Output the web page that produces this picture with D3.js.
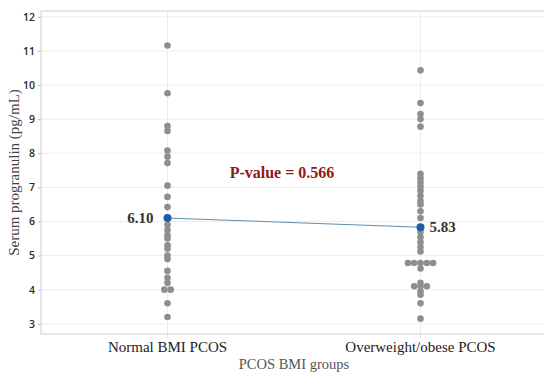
<!DOCTYPE html>
<html>
<head>
<meta charset="utf-8">
<script src="https://cdn.jsdelivr.net/npm/d3@7"></script>
<style>
  body { margin: 0; background: #fff; }
  svg { display: block; }
</style>
</head>
<body>
<div id="chart"></div>
<script>
// groups and values
var groups = ["Normal BMI PCOS", "Overweight/obese PCOS"];
var normalValues = [11.16, 9.76, 8.8, 8.65, 8.08, 7.9, 7.71, 7.05, 6.72, 6.42,
  5.9, 5.75, 5.6, 5.5, 5.3, 5.2, 5.0, 4.9, 4.55, 4.35, 4.2, 4.0, 4.0, 3.6, 3.2];
var obeseValues = [10.43, 9.47, 9.15, 9.0, 8.78,
  7.4, 7.27, 7.15, 7.02, 6.9, 6.75, 6.6, 6.5, 6.3, 6.1,
  5.69, 5.54, 5.39, 5.25, 5.12,
  4.78, 4.78, 4.78, 4.78, 4.78, 4.62,
  4.2, 4.1, 4.1, 4.1, 3.95, 3.85, 3.6, 3.15];
var means = [6.10, 5.83];
var meanLabels = ["6.10", "5.83"];
var yTicks = [3, 4, 5, 6, 7, 8, 9, 10, 11, 12];
var pText = "P-value = 0.566";

var W = 544, H = 377;
var plotL = 41, plotT = 11, plotB = 334, plotR = 547;

var svg = d3.select("#chart").append("svg")
    .attr("width", W)
    .attr("height", H);

var x = d3.scalePoint().domain(groups).range([plotL, plotR]).padding(0.5);
var y = d3.scaleLinear().domain([2.7, 12.17]).range([plotB, plotT]);

// gridlines
svg.append("g").selectAll("line")
    .data(yTicks).enter().append("line")
    .attr("x1", plotL).attr("x2", plotR)
    .attr("y1", function(d) { return y(d); })
    .attr("y2", function(d) { return y(d); })
    .attr("stroke", "#ededed");

svg.append("g").selectAll("line")
    .data(groups).enter().append("line")
    .attr("x1", function(d) { return x(d); })
    .attr("x2", function(d) { return x(d); })
    .attr("y1", plotT).attr("y2", plotB + 4)
    .attr("stroke", "#ededed");

// frame
svg.append("rect")
    .attr("x", plotL).attr("y", plotT)
    .attr("width", plotR - plotL).attr("height", plotB - plotT)
    .attr("fill", "none")
    .attr("stroke", "#cfcfcf");

// y axis
var yAxis = svg.append("g")
    .attr("transform", "translate(" + plotL + ",0)")
    .call(d3.axisLeft(y).tickValues(yTicks).tickSize(3).tickPadding(3));
yAxis.select(".domain").remove();
yAxis.selectAll(".tick line").attr("stroke", "#bbb");
yAxis.selectAll(".tick text")
    .attr("fill", "#2b2b2b")
    .attr("font-family", "Open Sans, sans-serif")
    .attr("font-weight", 600)
    .attr("font-size", "10.5px");

// x axis labels
svg.append("g").selectAll("text")
    .data(groups).enter().append("text")
    .attr("x", function(d) { return x(d); })
    .attr("y", 352)
    .attr("text-anchor", "middle")
    .attr("font-family", "Liberation Serif, Times New Roman, serif")
    .attr("font-size", "15px")
    .attr("fill", "#222")
    .text(function(d) { return d; });

svg.append("text")
    .attr("x", (plotL + plotR) / 2)
    .attr("y", 369)
    .attr("text-anchor", "middle")
    .attr("font-family", "Liberation Serif, Times New Roman, serif")
    .attr("font-size", "14.5px")
    .attr("fill", "#555")
    .text("PCOS BMI groups");

svg.append("text")
    .attr("transform", "translate(19," + ((plotT + plotB) / 2) + ") rotate(-90)")
    .attr("text-anchor", "middle")
    .attr("font-family", "Liberation Serif, Times New Roman, serif")
    .attr("font-size", "15px")
    .attr("fill", "#444")
    .text("Serum progranulin (pg/mL)");

// stack equal values side by side, like an individual value plot
function spread(values, group) {
  var bins = d3.group(values, function(v) { return Math.round(v * 20); });
  var pts = [];
  bins.forEach(function(vs) {
    vs.forEach(function(v, i) {
      pts.push({ group: group, value: v, off: (i - (vs.length - 1) / 2) * 6.3 });
    });
  });
  return pts;
}
var points = spread(normalValues, groups[0]).concat(spread(obeseValues, groups[1]));

svg.append("g").selectAll("circle")
    .data(points).enter().append("circle")
    .attr("cx", function(d) { return x(d.group) + d.off; })
    .attr("cy", function(d) { return y(d.value); })
    .attr("r", 3.3)
    .attr("fill", "#8e8e8e");

// mean line and points
var meanData = groups.map(function(g, i) { return { group: g, value: means[i], label: meanLabels[i] }; });

svg.append("path")
    .datum(meanData)
    .attr("d", d3.line().x(function(d) { return x(d.group); }).y(function(d) { return y(d.value); }))
    .attr("fill", "none")
    .attr("stroke", "#5b8fae")
    .attr("stroke-width", 1);

svg.append("g").selectAll("circle")
    .data(meanData).enter().append("circle")
    .attr("cx", function(d) { return x(d.group); })
    .attr("cy", function(d) { return y(d.value); })
    .attr("r", 4)
    .attr("fill", "#1d5ca8");

svg.append("g").selectAll("text")
    .data(meanData).enter().append("text")
    .attr("x", function(d, i) { return i === 0 ? x(d.group) - 14 : x(d.group) + 9; })
    .attr("y", function(d) { return y(d.value) + 5; })
    .attr("text-anchor", function(d, i) { return i === 0 ? "end" : "start"; })
    .attr("font-family", "Liberation Serif, Times New Roman, serif")
    .attr("font-size", "15px")
    .attr("font-weight", "bold")
    .attr("fill", "#333")
    .text(function(d) { return d.label; });

svg.append("text")
    .attr("x", 282)
    .attr("y", 178)
    .attr("text-anchor", "middle")
    .attr("font-family", "Liberation Serif, Times New Roman, serif")
    .attr("font-size", "16px")
    .attr("font-weight", "bold")
    .attr("fill", "#8b1a1a")
    .text(pText);
</script>
</body>
</html>
